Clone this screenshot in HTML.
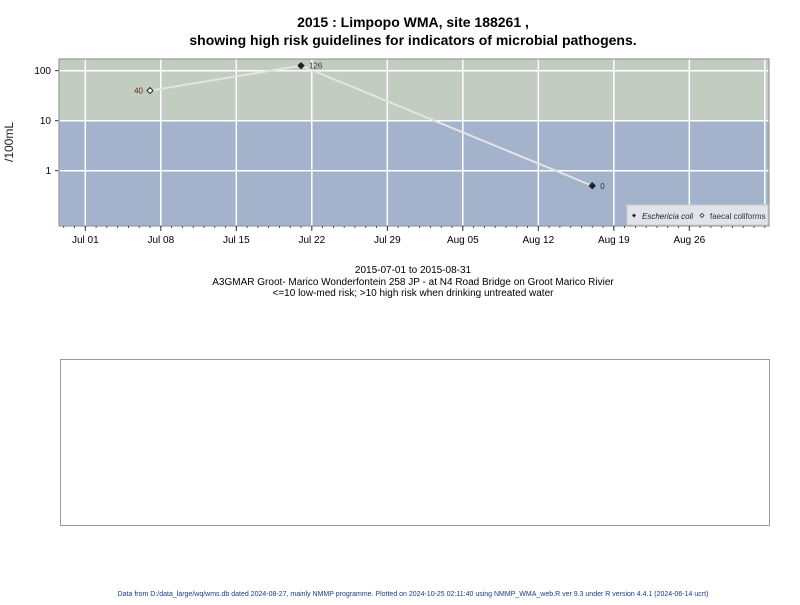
<!DOCTYPE html>
<html><head><meta charset="utf-8"><style>
body{margin:0;background:#fff;font-family:"Liberation Sans",sans-serif;}
</style></head><body>
<svg width="800" height="600" viewBox="0 0 800 600" xmlns="http://www.w3.org/2000/svg" font-family="Liberation Sans, sans-serif">
<text x="413" y="27" text-anchor="middle" font-size="14" font-weight="bold">2015 : Limpopo WMA, site 188261 ,</text>
<text x="413" y="45" text-anchor="middle" font-size="14" font-weight="bold">showing high risk guidelines for indicators of microbial pathogens.</text>
<g id="plot"></g>
<text x="13" y="142" font-size="12" text-anchor="middle" transform="rotate(-90 13 142)" fill="#222">/100mL</text>
<text x="413" y="273" text-anchor="middle" font-size="10">2015-07-01 to 2015-08-31</text>
<text x="413" y="285" text-anchor="middle" font-size="10">A3GMAR Groot- Marico Wonderfontein 258 JP - at N4 Road Bridge on Groot Marico Rivier</text>
<text x="413" y="296" text-anchor="middle" font-size="10">&lt;=10 low-med risk; &gt;10 high risk when drinking untreated water</text>
<rect x="60.5" y="359.5" width="709" height="166" fill="none" stroke="#999"/>
<text x="413" y="596" text-anchor="middle" font-size="7" fill="#1a3a8a">Data from D:/data_large/wq/wms.db dated 2024-08-27, mainly NMMP programme. Plotted on 2024-10-25 02:11:40 using NMMP_WMA_web.R ver 9.3 under R version 4.4.1 (2024-06-14 ucrt)</text>
</svg>
<script>
const tickLabels=["Jul 01","Jul 08","Jul 15","Jul 22","Jul 29","Aug 05","Aug 12","Aug 19","Aug 26"];
const tickDays=[0,7,14,21,28,35,42,49,56];
const yTicks=[1,10,100];
const pointDays=[6,20,47];
const pointValues=[40,126,0.5];
const pointLabels=["40","126","0"];
const pointSeries=["fc","ec","ec"];
const guideline=10;

const X0=59,X1=769,Y0=59,Y1=226;
const xs=d=>85.3+d*10.786;
const ys=v=>170.7-50*Math.log10(v);
const NS="http://www.w3.org/2000/svg";
const g=document.getElementById('plot');
function mk(t,a,p){const e=document.createElementNS(NS,t);for(const k in a)e.setAttribute(k,a[k]);(p||g).appendChild(e);return e;}
let e;
e=mk('rect',{x:X0,y:Y0,width:X1-X0,height:ys(guideline)-Y0,fill:'#c2ccc1'});


e=mk('rect',{x:X0,y:ys(guideline),width:X1-X0,height:Y1-ys(guideline),fill:'#a2b3cb'});


for(let d=0;d<=63;d+=7){
 const x=xs(d);if(x>X1)break;
 e=mk('line',{x1:x,x2:x,y1:Y0,y2:Y1,stroke:'#fff','stroke-width':1.5});
 
 
}
yTicks.forEach(v=>{
 e=mk('line',{x1:X0,x2:X1,y1:ys(v),y2:ys(v),stroke:'#fff','stroke-width':1.5});
 
 
 e=mk('line',{x1:X0-4,x2:X0,y1:ys(v),y2:ys(v),stroke:'#333'});
 
 
 e=mk('text',{x:X0-8,y:ys(v)+3.5,'text-anchor':'end','font-size':10});
 e.textContent=String(v);
 
 
});
e=mk('rect',{x:X0,y:Y0,width:X1-X0,height:Y1-Y0,fill:'none',stroke:'#999','stroke-width':1.2});


for(let d=-2;d<=63;d++){
 const x=xs(d);if(x<X0||x>X1)continue;
 e=mk('line',{x1:x,x2:x,y1:Y1,y2:Y1+2,stroke:'#333','stroke-width':0.8});
 
 
}
tickDays.forEach((d,i)=>{
 e=mk('line',{x1:xs(d),x2:xs(d),y1:Y1,y2:Y1+5,stroke:'#333'});
 
 
 e=mk('text',{x:xs(d),y:Y1+17,'text-anchor':'middle','font-size':10});
 e.textContent=tickLabels[i];
 
 
});
e=mk('polyline',{points:pointDays.map((d,i)=>xs(d)+','+ys(pointValues[i])).join(' '),fill:'none',stroke:'#e4e4e4','stroke-width':2});


pointDays.forEach((d,i)=>{
 const x=xs(d),y=ys(pointValues[i]),ec=pointSeries[i]==='ec';
 e=mk('path',{d:`M${x} ${y-3}L${x+3} ${y}L${x} ${y+3}L${x-3} ${y}Z`,fill:ec?'#222':'#fff',stroke:'#222','stroke-width':1});
 
 
 const left=!ec;
 e=mk('text',{x:left?x-7:x+8,y:y+3,'text-anchor':left?'end':'start','font-size':8,fill:left?'#6a2a10':'#333'});
 e.textContent=pointLabels[i];
 
 
});
const lg=mk('g',{});


mk('rect',{x:627,y:205,width:141,height:20,fill:'#e0e4ea',stroke:'#ccc'},lg);
mk('path',{d:'M634 213.5L636 215.5L634 217.5L632 215.5Z',fill:'#222'},lg);
e=mk('text',{x:642,y:219,'font-size':8,'font-style':'italic',fill:'#222'},lg);
e.textContent='Eschericia coli';


mk('path',{d:'M702 213.5L704 215.5L702 217.5L700 215.5Z',fill:'#fff',stroke:'#222','stroke-width':0.8},lg);
e=mk('text',{x:710,y:219,'font-size':8,fill:'#333'},lg);
e.textContent='faecal coliforms';


</script>
</body></html>
